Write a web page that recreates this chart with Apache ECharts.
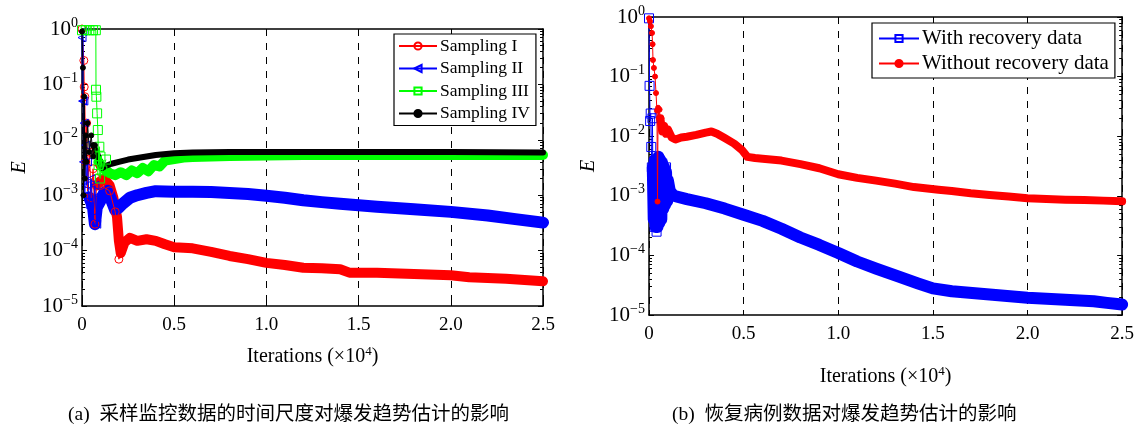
<!DOCTYPE html>
<html><head><meta charset="utf-8">
<script src="https://cdn.jsdelivr.net/npm/echarts@6/dist/echarts.min.js"></script>
<style>html,body{margin:0;padding:0;background:#fff}#c{width:1137px;height:428px}</style>
</head><body><div id="c"></div>
<script>
// ---------- data (x in units of 10^4 iterations, y = E) ----------
const xTickLabels = ['0', '0.5', '1.0', '1.5', '2.0', '2.5'];
const yExponents = [0, -1, -2, -3, -4, -5];
const legendA = ['Sampling I', 'Sampling II', 'Sampling III', 'Sampling IV'];
const legendB = ['With recovery data', 'Without recovery data'];
const captionA = '(a)  采样监控数据的时间尺度对爆发趋势估计的影响';
const captionB = '(b)  恢复病例数据对爆发趋势估计的影响';

// Panel (a)
const samplingI_early = [[0,1.0],[0.01,0.27],[0.012,0.09],[0.015,0.06],[0.02,0.004],[0.025,0.02],[0.03,0.0012],[0.04,0.006],[0.05,0.0009],[0.06,0.003],[0.07,0.0003],[0.08,0.002],[0.1,0.0015],[0.15,0.0012],[0.18,0.0005],[0.2,0.00007],[0.22,0.00012]];
const samplingI_band = [[0.08,0.0015],[0.1,0.0018],[0.12,0.002],[0.15,0.0015],[0.17,0.0009],[0.19,0.0004],[0.2,0.00015],[0.21,0.00009],[0.23,0.00014],[0.26,0.00017],[0.3,0.00015],[0.35,0.00016],[0.4,0.00015],[0.45,0.00013],[0.5,0.000115],[0.6,0.00011],[0.7,0.000095],[0.8,0.00008],[0.9,0.00007],[1.0,0.00006],[1.1,0.000055],[1.2,0.000049],[1.3,0.000048],[1.4,0.000046],[1.45,0.00004],[1.6,0.00004],[1.8,0.000038],[2.0,0.000036],[2.1,0.000033],[2.3,0.000031],[2.5,0.000028]];
const samplingII_early = [[0.0,0.7],[0.003,0.05],[0.005,0.9],[0.008,0.004],[0.01,0.05],[0.012,0.02],[0.015,0.001],[0.02,0.008],[0.025,0.0015],[0.03,0.004],[0.04,0.0006],[0.05,0.002],[0.06,0.0004],[0.07,0.0015],[0.08,0.0003],[0.09,0.001]];
const samplingII_band = [[0.04,0.0009],[0.06,0.0006],[0.07,0.0003],[0.08,0.0006],[0.1,0.0008],[0.12,0.0011],[0.14,0.0012],[0.16,0.0008],[0.18,0.00054],[0.2,0.0006],[0.22,0.0007],[0.26,0.0009],[0.3,0.001],[0.35,0.0011],[0.4,0.00118],[0.5,0.00115],[0.6,0.00116],[0.7,0.00114],[0.8,0.0011],[0.9,0.00105],[1.0,0.00098],[1.1,0.0009],[1.2,0.00081],[1.3,0.00075],[1.4,0.0007],[1.5,0.00066],[1.6,0.00062],[1.8,0.00056],[2.0,0.0005],[2.2,0.00043],[2.35,0.00037],[2.5,0.00032]];
const samplingIII_early = [[0,0.95],[0.02,0.95],[0.04,0.95],[0.06,0.95],[0.075,0.95],[0.076,0.08],[0.078,0.06],[0.082,0.03],[0.086,0.015],[0.09,0.0035],[0.094,0.0075],[0.098,0.002],[0.1,0.005],[0.11,0.0028],[0.13,0.0044]];
const samplingIII_band = [[0.09,0.004],[0.1,0.0035],[0.12,0.003],[0.15,0.0025],[0.18,0.0023],[0.21,0.0026],[0.24,0.0023],[0.27,0.0028],[0.3,0.0025],[0.33,0.0031],[0.36,0.0027],[0.39,0.0035],[0.42,0.0033],[0.45,0.0042],[0.5,0.0045],[0.55,0.0048],[0.6,0.0049],[0.7,0.005],[0.8,0.0051],[1.0,0.0052],[1.2,0.0053],[1.5,0.0053],[2.0,0.0053],[2.5,0.0053]];
const samplingIV_early = [[0,0.9],[0.005,0.2],[0.008,0.001],[0.012,0.06],[0.015,0.002],[0.02,0.012],[0.025,0.004],[0.03,0.02],[0.04,0.006],[0.05,0.012],[0.06,0.005],[0.07,0.008]];
const samplingIV_band = [[0.06,0.008],[0.08,0.006],[0.1,0.0038],[0.11,0.0031],[0.13,0.0034],[0.16,0.0037],[0.2,0.004],[0.25,0.0044],[0.3,0.0047],[0.4,0.0053],[0.5,0.0057],[0.6,0.0059],[0.8,0.006],[1.0,0.006],[1.5,0.006],[2.0,0.006],[2.5,0.0059]];

// Panel (b)
const withRecovery_early = [[0,0.95],[0.003,0.07],[0.006,0.018],[0.009,0.024],[0.012,0.0066],[0.015,0.003],[0.018,0.02],[0.022,0.0008],[0.026,0.003],[0.03,0.0003],[0.035,0.004],[0.04,0.00025],[0.045,0.003],[0.05,0.0004],[0.055,0.004],[0.06,0.0006],[0.07,0.0035],[0.08,0.0007],[0.09,0.003],[0.1,0.0009]];
const withRecovery_band = [[0.02,0.003],[0.025,0.0004],[0.03,0.004],[0.035,0.0003],[0.04,0.0035],[0.045,0.0003],[0.05,0.0045],[0.055,0.00035],[0.06,0.004],[0.065,0.0004],[0.07,0.0035],[0.075,0.0006],[0.08,0.003],[0.085,0.0007],[0.09,0.0025],[0.095,0.0008],[0.1,0.0018],[0.11,0.0012],[0.13,0.001],[0.2,0.00088],[0.3,0.00075],[0.4,0.00061],[0.5,0.00048],[0.6,0.00038],[0.7,0.00028],[0.8,0.0002],[0.9,0.00015],[1.0,0.00011],[1.1,0.000079],[1.2,0.00006],[1.32,0.000044],[1.42,0.000034],[1.5,0.000028],[1.6,0.000025],[1.8,0.000022],[2.0,0.0000195],[2.2,0.000018],[2.35,0.000017],[2.42,0.000016],[2.5,0.000015]];
const withoutRecovery_early = [[0,0.95],[0.005,0.85],[0.01,0.7],[0.016,0.54],[0.019,0.35],[0.021,0.19],[0.026,0.14],[0.032,0.1],[0.037,0.053],[0.042,0.027],[0.045,0.0008],[0.048,0.03],[0.052,0.02],[0.056,0.028],[0.06,0.016],[0.066,0.02],[0.07,0.012]];
const withoutRecovery_band = [[0.06,0.02],[0.07,0.012],[0.08,0.015],[0.09,0.011],[0.1,0.013],[0.12,0.0095],[0.14,0.0088],[0.17,0.0095],[0.2,0.0098],[0.25,0.0105],[0.3,0.0115],[0.33,0.012],[0.36,0.011],[0.4,0.0093],[0.45,0.0075],[0.49,0.0059],[0.52,0.0045],[0.56,0.0043],[0.6,0.0042],[0.7,0.0039],[0.8,0.0034],[0.9,0.0029],[1.0,0.0023],[1.1,0.002],[1.2,0.0018],[1.3,0.0016],[1.4,0.0014],[1.53,0.00126],[1.6,0.0012],[1.7,0.0011],[1.8,0.00103],[1.9,0.00097],[2.0,0.00091],[2.1,0.00088],[2.2,0.00086],[2.3,0.00085],[2.4,0.00083],[2.5,0.00081]];

// ---------- chart ----------
const SERIF = '"Liberation Serif", "Times New Roman", serif';
const chart = echarts.init(document.getElementById('c'), null, {renderer: 'canvas'});

function yLabel(v) {
  const e = Math.round(Math.log10(v));
  if (yExponents.indexOf(e) < 0) return '';
  return '{b|10}{s|' + (e === 0 ? '0' : '\u2212' + (-e)) + '}';
}
function xLabel(v) {
  const i = Math.round(v / 0.5);
  return xTickLabels[i] !== undefined ? xTickLabels[i] : '';
}
const yRich = {
  b: {fontFamily: SERIF, fontSize: 21, color: '#000'},
  s: {fontFamily: SERIF, fontSize: 14, color: '#000', padding: [0, 0, 12, 0]}
};
function xMain(grid, nameGap) {
  return {
    type: 'value', gridIndex: grid, min: 0, max: 2.5, interval: 0.5, position: 'bottom',
    axisLine: {onZero: false, lineStyle: {color: '#000', width: 1.5}},
    axisTick: {inside: true, length: 5, lineStyle: {color: '#000'}},
    splitLine: {show: true, lineStyle: {color: '#000', type: [7, 7], width: 1}},
    axisLabel: {formatter: xLabel, fontFamily: SERIF, fontSize: 19, color: '#000', margin: 10},
    name: '{a|Iterations (\u00d710}{s|4}{a|)}', nameLocation: 'middle', nameGap: nameGap,
    nameTextStyle: {rich: {a: {fontFamily: SERIF, fontSize: 20, color: '#000'}, s: {fontFamily: SERIF, fontSize: 13, color: '#000', padding: [0, 0, 11, 0]}}}
  };
}
function xTop(grid) {
  return {
    type: 'value', gridIndex: grid, min: 0, max: 2.5, interval: 0.5, position: 'top',
    axisLine: {onZero: false, lineStyle: {color: '#000', width: 1.5}},
    axisTick: {inside: true, length: 5, lineStyle: {color: '#000'}},
    axisLabel: {show: false}, splitLine: {show: false}
  };
}
const minorTickStyle = {show: true, splitNumber: 9, length: 3, lineStyle: {color: '#000', width: 1}};
function yMain(grid, nameGap) {
  return {
    type: 'log', logBase: 10, gridIndex: grid, min: 1e-5, max: 1, position: 'left',
    axisLine: {show: true, onZero: false, lineStyle: {color: '#000', width: 1.5}},
    axisTick: {show: true, inside: true, length: 5, lineStyle: {color: '#000'}},
    minorTick: minorTickStyle,
    splitLine: {show: false},
    axisLabel: {formatter: yLabel, rich: yRich, margin: 4},
    name: 'E', nameLocation: 'middle', nameGap: nameGap,
    nameTextStyle: {fontFamily: SERIF, fontStyle: 'italic', fontSize: 20, color: '#000'}
  };
}
function yRight(grid) {
  return {
    type: 'log', logBase: 10, gridIndex: grid, min: 1e-5, max: 1, position: 'right',
    axisLine: {show: true, onZero: false, lineStyle: {color: '#000', width: 1.5}},
    axisTick: {show: true, inside: true, length: 5, lineStyle: {color: '#000'}},
    minorTick: minorTickStyle,
    axisLabel: {show: false}, splitLine: {show: false}
  };
}
const CLEAR = 'rgba(0,0,0,0)';
function early(name, data, color, symbol, size, filled, xi, yi, z, extra) {
  return Object.assign({
    name: name, type: 'line', data: data, xAxisIndex: xi, yAxisIndex: yi, z: z,
    symbol: symbol, symbolSize: size, showAllSymbol: true, animation: false,
    lineStyle: {color: color, width: 1},
    itemStyle: {color: filled ? color : CLEAR, borderColor: color, borderWidth: 1}
  }, extra || {});
}
function band(name, data, color, width, xi, yi, z) {
  return {
    name: name, type: 'line', data: data, xAxisIndex: xi, yAxisIndex: yi, z: z,
    symbol: 'none', animation: false, silent: true,
    lineStyle: {color: color, width: width, join: 'round', cap: 'round'}
  };
}
const RED = '#ff0000', BLUE = '#0000ff', GREEN = '#00ff00', BLACK = '#000000';

const option = {
  backgroundColor: '#fff',
  animation: false,
  grid: [
    {left: 82, top: 29, width: 461, height: 277},
    {left: 649, top: 17, width: 476, height: 298}
  ],
  xAxis: [xMain(0, 39), xTop(0), xMain(1, 50), xTop(1)],
  yAxis: [yMain(0, 52), yRight(0), yMain(1, 50), yRight(1)],
  legend: [
    {data: legendA, orient: 'vertical', left: 394, top: 34, padding: [3, 6, 3, 4], itemGap: 4.5,
     itemWidth: 38, itemHeight: 9, borderColor: '#000', borderWidth: 1.2, backgroundColor: '#fff',
     textStyle: {fontFamily: SERIF, fontSize: 17.5, color: '#000', padding: [0, 0, 0, -2]}, symbolRotate: 'inherit'},
    {data: legendB, orient: 'vertical', left: 872, top: 23, padding: [5, 6, 4, 6], itemGap: 4,
     itemWidth: 40, itemHeight: 9, borderColor: '#000', borderWidth: 1.2, backgroundColor: '#fff',
     textStyle: {fontFamily: SERIF, fontSize: 21, color: '#000', padding: [0, 0, 0, -2]}}
  ],
  graphic: [
    {type: 'text', left: 68, top: 405, style: {text: captionA, font: '19.5px "Liberation Serif", "Noto Sans CJK SC"', fill: '#000'}},
    {type: 'text', left: 672, top: 405, style: {text: captionB, font: '19.5px "Liberation Serif", "Noto Sans CJK SC"', fill: '#000'}}
  ],
  series: [
    early('Sampling I', samplingI_early, RED, 'circle', 8, false, 0, 0, 6),
    early('Sampling II', samplingII_early, BLUE, 'triangle', 8, false, 0, 0, 7, {symbolRotate: 90}),
    early('Sampling III', samplingIII_early, GREEN, 'rect', 9, false, 0, 0, 8),
    early('Sampling IV', samplingIV_early, BLACK, 'circle', 5, true, 0, 0, 9),
    band('Sampling I band', samplingI_band, RED, 10, 0, 0, 2),
    band('Sampling II band', samplingII_band, BLUE, 12, 0, 0, 3),
    band('Sampling III band', samplingIII_band, GREEN, 10, 0, 0, 4),
    band('Sampling IV band', samplingIV_band, BLACK, 6, 0, 0, 5),
    early('With recovery data', withRecovery_early, BLUE, 'rect', 9, false, 2, 2, 6),
    early('Without recovery data', withoutRecovery_early, RED, 'circle', 5, true, 2, 2, 7),
    band('With recovery band', withRecovery_band, BLUE, 12, 2, 2, 3),
    band('Without recovery band', withoutRecovery_band, RED, 8, 2, 2, 4)
  ]
};
chart.setOption(option);
</script>
</body></html>
